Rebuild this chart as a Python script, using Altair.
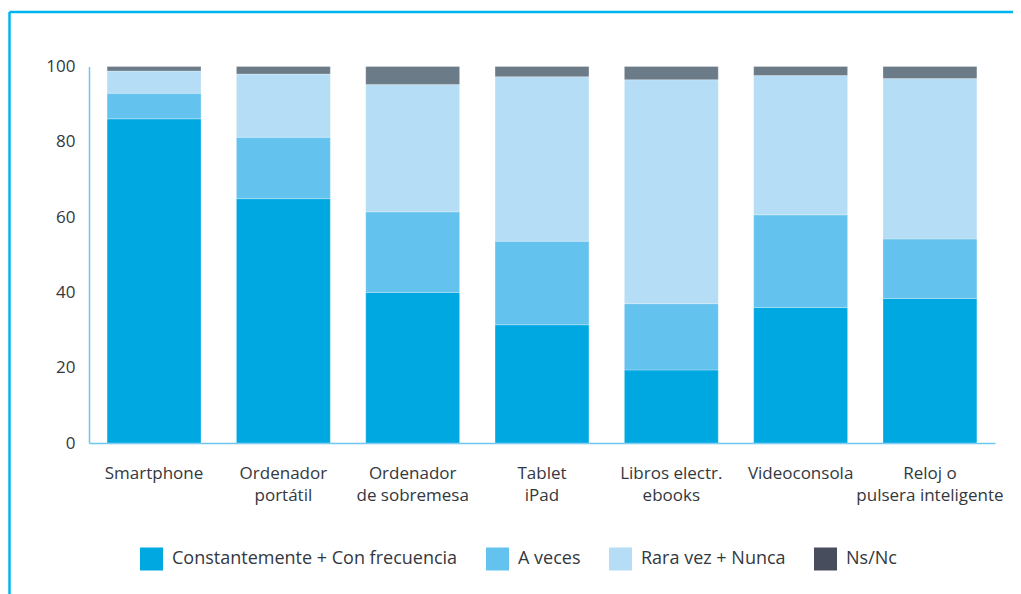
import altair as alt
import pandas as pd

categories = ["Smartphone", "Ordenador|portátil", "Ordenador|de sobremesa", "Tablet|iPad",
              "Libros electr.|ebooks", "Videoconsola", "Reloj o|pulsera inteligente"]
series = ["Constantemente + Con frecuencia", "A veces", "Rara vez + Nunca", "Ns/Nc"]
constantemente = [86.1, 64.9, 40.0, 31.4, 19.4, 36.0, 38.4]
a_veces = [6.8, 16.3, 21.4, 22.2, 17.6, 24.6, 15.8]
rara_vez = [5.9, 16.8, 33.8, 43.7, 59.5, 37.0, 42.6]
ns_nc = [1.2, 2.0, 4.8, 2.7, 3.5, 2.4, 3.2]
y_ticks = [0, 20, 40, 60, 80, 100]

bar_colors = ["#00A8E1", "#63C2EE", "#B5DDF5", "#6B7B87"]
legend_colors = ["#00A8E1", "#63C2EE", "#B5DDF5", "#474D5C"]

rows = []
for si, (name, vals) in enumerate(zip(series, [constantemente, a_veces, rara_vez, ns_nc])):
    for c, v in zip(categories, vals):
        rows.append({"cat": c, "series": name, "value": v, "idx": si})
df = pd.DataFrame(rows)

FONT = "Open Sans"
TXT = "#333840"
AXIS_BLUE = "#6CC6EE"
FRAME_BLUE = "#00B4EF"

x_enc = alt.X("cat:N", sort=categories,
              scale=alt.Scale(paddingInner=0.274, paddingOuter=0.14),
              axis=alt.Axis(title=None, labelAngle=0, labelExpr="split(datum.label, '|')",
                            labelFontSize=17, labelColor=TXT, labelFont=FONT, labelPadding=22,
                            labelLineHeight=22, ticks=False, domainColor=AXIS_BLUE,
                            domainWidth=1.5, labelLimit=300))

bars = alt.Chart(df).mark_bar(stroke="#ffffff", strokeWidth=0.5, strokeOpacity=0.5).encode(
    x=x_enc,
    y=alt.Y("value:Q", stack="zero",
            scale=alt.Scale(domain=[0, 100], nice=False),
            axis=alt.Axis(title=None, values=y_ticks, grid=False, ticks=False,
                          labelFontSize=17, labelColor=TXT, labelFont=FONT, labelPadding=14,
                          domainColor=AXIS_BLUE, domainWidth=1.5)),
    fill=alt.Fill("series:N", scale=alt.Scale(domain=series, range=bar_colors), legend=None),
    order=alt.Order("idx:Q"),
)

legend_layer = alt.Chart(df).transform_calculate(leyenda="datum.series").mark_square(
    filled=True, opacity=0, size=1).encode(
    x=alt.X("cat:N", sort=categories),
    color=alt.Color("leyenda:N", scale=alt.Scale(domain=series, range=legend_colors),
                    legend=alt.Legend(title=None, orient="none", legendX=51, legendY=481,
                                      direction="horizontal", symbolType="square",
                                      symbolSize=529, symbolStrokeWidth=0, symbolOpacity=1,
                                      labelFontSize=18, labelFont=FONT, labelColor=TXT,
                                      labelOffset=9, columnPadding=28, padding=0,
                                      labelLimit=400)),
)

frame_df = pd.DataFrame({"k": [0]})
frame_left = alt.Chart(frame_df).mark_rule(color=FRAME_BLUE, strokeWidth=2.5).encode(
    x=alt.value(-79.5), y=alt.value(-54.5), y2=alt.value(600))
frame_top = alt.Chart(frame_df).mark_rule(color=FRAME_BLUE, strokeWidth=2.5).encode(
    x=alt.value(-79.5), x2=alt.value(1000), y=alt.value(-54.5))

chart = alt.layer(frame_left, frame_top, bars, legend_layer).resolve_scale(
    color="independent", fill="independent"
).properties(
    width=906, height=376.5,
    padding={"left": 81, "top": 58.5, "right": 18, "bottom": 165},
    autosize="none",
).configure_view(stroke=None)

chart.save("out.html", embed_options={"renderer": "svg", "actions": False})
